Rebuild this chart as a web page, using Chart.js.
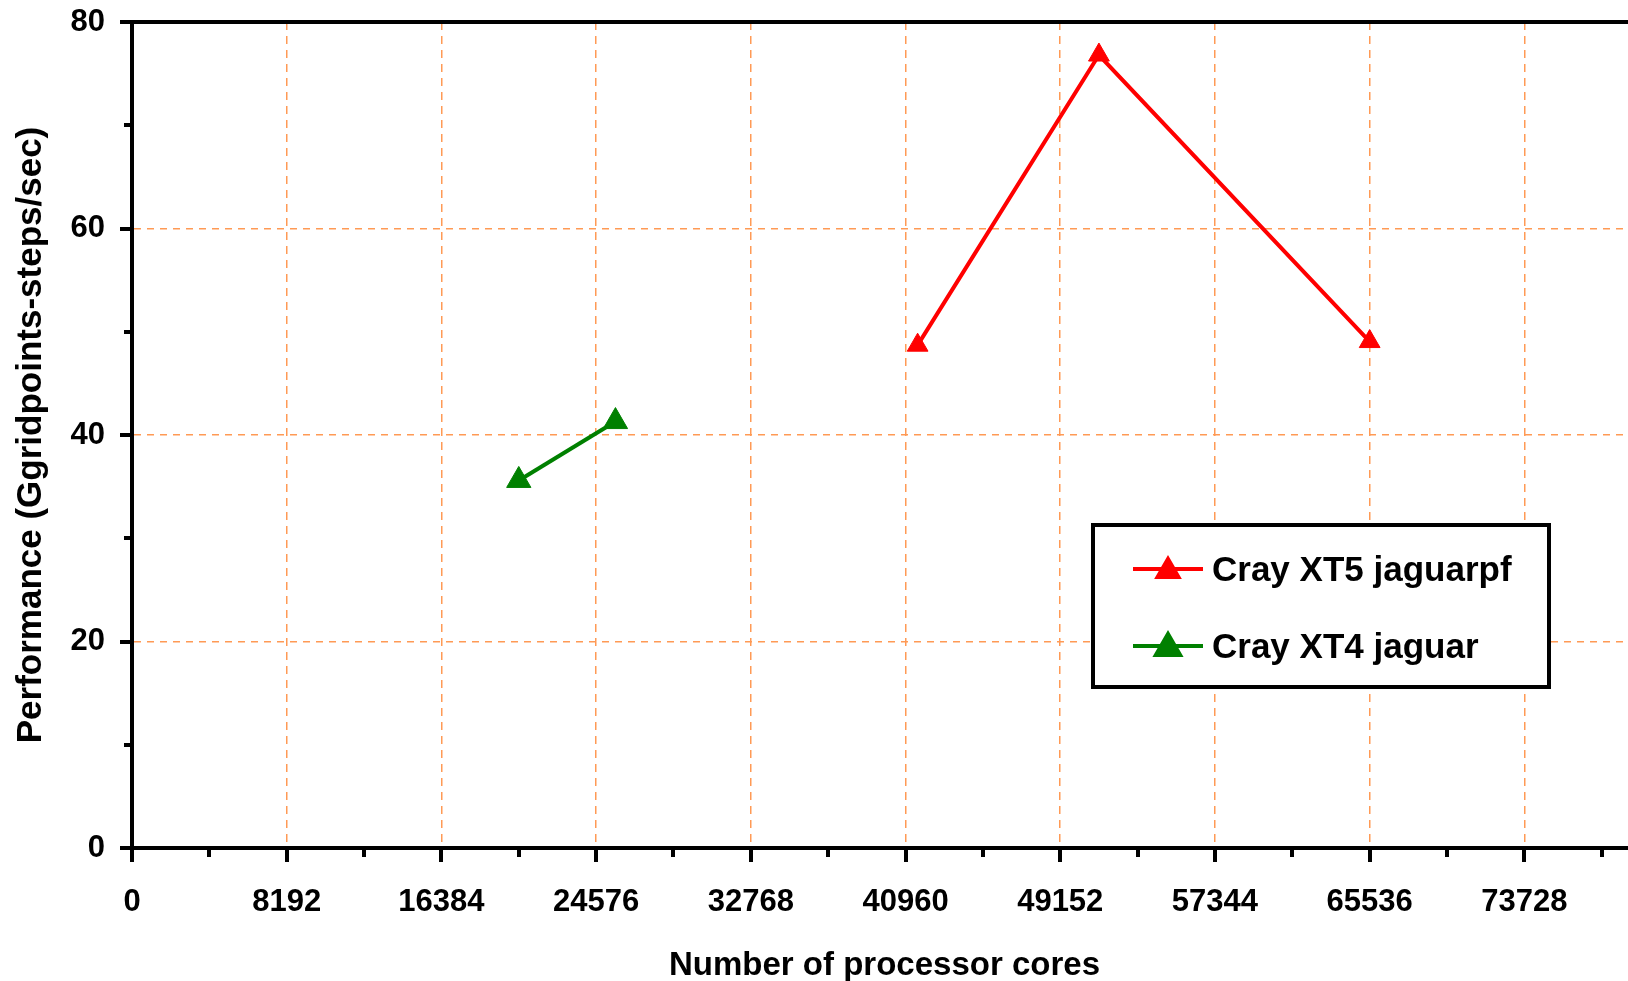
<!DOCTYPE html>
<html>
<head>
<meta charset="utf-8">
<title>Performance vs processor cores</title>
<script src="https://cdn.jsdelivr.net/npm/chart.js@4/dist/chart.umd.min.js"></script>
<style>
  html, body { margin: 0; padding: 0; background: #fff; overflow: hidden; }
  #wrap { position: relative; width: 1652px; height: 981px; }
  #chart { display: block; }
</style>
</head>
<body>
<div id="wrap"><canvas id="chart" width="1652" height="981"></canvas></div>
<script>
// Measured performance (Ggridpoints-steps/sec) by core count
const xt5Label = 'Cray XT5 jaguarpf';
const xt5Cores = [41600, 51200, 65536];
const xt5Perf  = [48.7, 76.8, 49.05];

const xt4Label = 'Cray XT4 jaguar';
const xt4Cores = [20480, 25600];
const xt4Perf  = [35.6, 41.3];

// Axis ticks
const xMajorStep = 8192;
const xMinorStep = 4096;
const xMax = 79692;
const yMajorStep = 20;
const yMinorStep = 10;
const yMax = 80;

const FONT = "'Liberation Sans', Arial, sans-serif";
const GRID = '#FF9A55';

function toPoints(xs, ys) { return xs.map((v, i) => ({ x: v, y: ys[i] })); }

// Tick marks (major/minor), top frame line and the boxed legend
const frameAndLegend = {
  id: 'frameAndLegend',
  afterDraw(chart) {
    const { ctx, chartArea: { left, top, bottom }, scales: { x, y } } = chart;
    ctx.save();
    ctx.strokeStyle = '#000';
    ctx.lineWidth = 4;
    ctx.lineCap = 'butt';
    ctx.beginPath();
    ctx.moveTo(left - 12, top);
    ctx.lineTo(chart.width, top);
    x.ticks.forEach(t => {
      const px = Math.round(x.getPixelForValue(t.value));
      const len = t.value % xMajorStep === 0 ? 14 : 9;
      ctx.moveTo(px, bottom);
      ctx.lineTo(px, bottom + len);
    });
    y.ticks.forEach(t => {
      const py = Math.round(y.getPixelForValue(t.value));
      const len = t.value % yMajorStep === 0 ? 12 : 8;
      ctx.moveTo(left, py);
      ctx.lineTo(left - len, py);
    });
    ctx.stroke();

    // legend box
    const bx = 1093, by = 525, bw = 456, bh = 162;
    ctx.fillStyle = '#fff';
    ctx.fillRect(bx, by, bw, bh);
    ctx.lineWidth = 4;
    ctx.strokeStyle = '#000';
    ctx.strokeRect(bx, by, bw, bh);
    const rows = [569, 646];
    chart.data.datasets.forEach((ds, i) => {
      const ly = rows[i];
      ctx.strokeStyle = ds.borderColor;
      ctx.lineWidth = 4;
      ctx.beginPath();
      ctx.moveTo(1133, ly);
      ctx.lineTo(1203, ly);
      ctx.stroke();
      ctx.fillStyle = ds.backgroundColor;
      ctx.strokeStyle = ds.borderColor;
      Chart.helpers.drawPoint(ctx, {
        pointStyle: 'triangle', radius: ds.pointRadius, rotation: 0, borderWidth: 1
      }, 1168, ly + 2);
      ctx.fillStyle = '#000';
      ctx.font = 'bold 35px ' + FONT;
      ctx.textAlign = 'left';
      ctx.textBaseline = 'alphabetic';
      ctx.fillText(ds.label, 1212, ly + 12);
    });
    ctx.restore();
  }
};

new Chart(document.getElementById('chart'), {
  type: 'scatter',
  data: {
    datasets: [
      {
        label: xt5Label,
        data: toPoints(xt5Cores, xt5Perf),
        showLine: true,
        borderColor: '#FF0000',
        backgroundColor: '#FF0000',
        borderWidth: 4,
        pointStyle: 'triangle',
        pointRadius: 12,
        pointBorderWidth: 1
      },
      {
        label: xt4Label,
        data: toPoints(xt4Cores, xt4Perf),
        showLine: true,
        borderColor: '#008000',
        backgroundColor: '#008000',
        borderWidth: 4,
        pointStyle: 'triangle',
        pointRadius: 14,
        pointBorderWidth: 1
      }
    ]
  },
  options: {
    responsive: false,
    maintainAspectRatio: false,
    devicePixelRatio: 1,
    animation: false,
    layout: { padding: { top: 22, left: 0, right: 0, bottom: 0 } },
    plugins: { legend: { display: false }, tooltip: { enabled: false } },
    scales: {
      x: {
        type: 'linear',
        min: 0,
        max: xMax,
        afterBuildTicks(scale) {
          const t = [];
          for (let v = 0; v <= xMax; v += xMinorStep) t.push({ value: v });
          scale.ticks = t;
        },
        afterFit(scale) {
          scale.height = 133;
          scale.paddingLeft = 0; scale.paddingRight = 0;
          scale.paddingTop = 0; scale.paddingBottom = 0;
        },
        ticks: {
          autoSkip: false,
          maxRotation: 0,
          padding: 36,
          color: '#000',
          font: { family: FONT, size: 31, weight: 'bold' },
          callback: v => (v % xMajorStep === 0 ? String(v) : '')
        },
        grid: {
          drawTicks: false,
          lineWidth: 1.5,
          color: c => (c.tick && c.tick.value % xMajorStep === 0 && c.tick.value !== 0) ? GRID : 'rgba(0,0,0,0)'
        },
        border: { display: true, color: '#000', width: 4, dash: [8, 6] },
        title: {
          display: true,
          text: 'Number of processor cores',
          color: '#000',
          font: { family: FONT, size: 33, weight: 'bold' },
          padding: { top: 0, bottom: -5 }
        }
      },
      y: {
        type: 'linear',
        min: 0,
        max: yMax,
        afterBuildTicks(scale) {
          const t = [];
          for (let v = 0; v <= yMax; v += yMinorStep) t.push({ value: v });
          scale.ticks = t;
        },
        afterFit(scale) {
          scale.width = 132;
          scale.paddingLeft = 0; scale.paddingRight = 0;
          scale.paddingTop = 0; scale.paddingBottom = 0;
        },
        ticks: {
          autoSkip: false,
          padding: 27,
          color: '#000',
          font: { family: FONT, size: 31, weight: 'bold' },
          callback: v => (v % yMajorStep === 0 ? String(v) : '')
        },
        grid: {
          drawTicks: false,
          lineWidth: 1.5,
          color: c => (c.tick && c.tick.value % yMajorStep === 0 && c.tick.value !== 0 && c.tick.value !== yMax) ? GRID : 'rgba(0,0,0,0)'
        },
        border: { display: true, color: '#000', width: 4, dash: [7, 6] },
        title: {
          display: true,
          text: 'Performance (Ggridpoints-steps/sec)',
          color: '#000',
          font: { family: FONT, size: 35, weight: 'bold' },
          padding: { top: 10, bottom: 0 }
        }
      }
    }
  },
  plugins: [frameAndLegend]
});
</script>
</body>
</html>
